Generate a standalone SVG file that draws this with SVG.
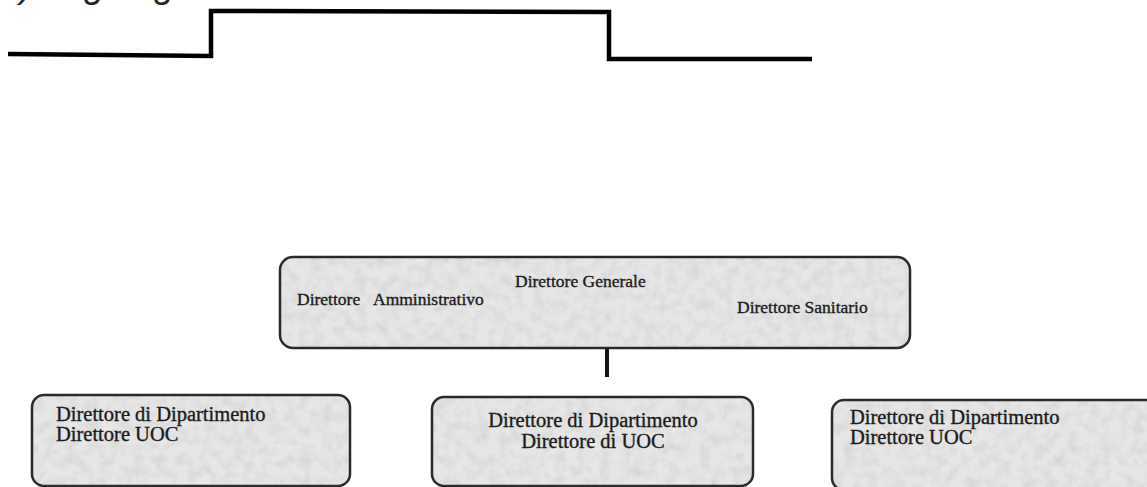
<svg xmlns="http://www.w3.org/2000/svg" width="1147" height="487" viewBox="0 0 1147 487">
<style>
.box{fill:#e6e6e6;stroke:none}
.brd{fill:none;stroke:#2a2a2a;stroke-width:2.5}
.t{font-family:"Liberation Serif","Times New Roman",serif;fill:#1a1a1a;stroke:#1a1a1a;stroke-width:0.35}
.big{font-size:17.5px}
.sm{font-size:20.5px}
.line{fill:none;stroke:#000;stroke-width:4.5;stroke-linejoin:miter;stroke-linecap:butt}
</style>
<defs>
<filter id="tex" x="0" y="0" width="1" height="1">
<feTurbulence type="fractalNoise" baseFrequency="0.09" numOctaves="3" seed="4" result="n"/>
<feColorMatrix in="n" type="matrix" values="0 0 0 0 0.6  0 0 0 0 0.6  0 0 0 0 0.6  0 0 0 -1.2 0.75" result="g"/>
<feComposite in="g" in2="SourceGraphic" operator="in" result="t"/>
<feMerge><feMergeNode in="SourceGraphic"/><feMergeNode in="t"/></feMerge>
</filter>
</defs>
<rect width="1147" height="487" fill="#ffffff"/>
<text x="0" y="-3" style="font-family:'Liberation Sans',Arial,sans-serif;font-style:italic;font-size:37px;fill:#222">b) Organigramma</text>
<g id="step">
<polyline class="line" points="8,54 211,56 211,11 609,12 609,59 812,59"/>
</g>
<g id="connectors">
<line x1="607" y1="349" x2="607" y2="377" stroke="#111" stroke-width="4"/>
</g>
<g id="dg">
<rect class="box" x="280" y="257" width="630" height="91" rx="13" filter="url(#tex)"/>
<rect class="brd" x="280" y="257" width="630" height="91" rx="13"/>
<text class="t big" x="515" y="287">Direttore Generale</text>
<text class="t big" x="297" y="305">Direttore</text>
<text class="t big" x="373" y="305">Amministrativo</text>
<text class="t big" x="737" y="313">Direttore Sanitario</text>
</g>
<g id="dip1">
<rect class="box" x="32" y="395" width="318" height="91" rx="12" filter="url(#tex)"/>
<rect class="brd" x="32" y="395" width="318" height="91" rx="12"/>
<text class="t sm" x="56" y="421">Direttore di Dipartimento</text>
<text class="t sm" x="56" y="441">Direttore UOC</text>
</g>
<g id="dip2">
<rect class="box" x="432" y="397" width="321" height="89" rx="12" filter="url(#tex)"/>
<rect class="brd" x="432" y="397" width="321" height="89" rx="12"/>
<text class="t sm" x="593" y="427" text-anchor="middle">Direttore di Dipartimento</text>
<text class="t sm" x="593" y="448" text-anchor="middle">Direttore di UOC</text>
</g>
<g id="dip3">
<rect class="box" x="832" y="400" width="330" height="90" rx="12" filter="url(#tex)"/>
<rect class="brd" x="832" y="400" width="330" height="90" rx="12"/>
<text class="t sm" x="850" y="424">Direttore di Dipartimento</text>
<text class="t sm" x="850" y="444">Direttore UOC</text>
</g>
</svg>
